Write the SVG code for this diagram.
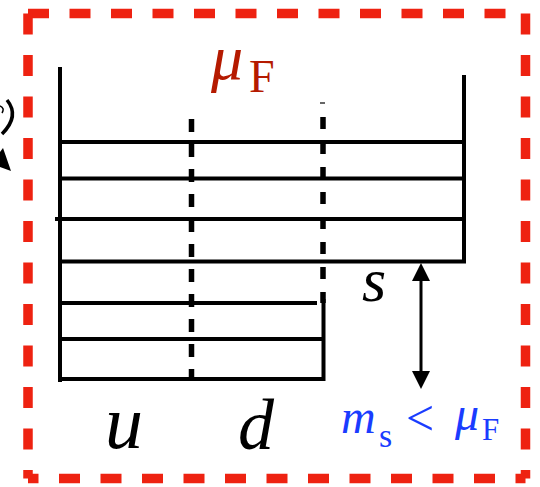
<svg xmlns="http://www.w3.org/2000/svg" width="540" height="487" viewBox="0 0 540 487">
<style>
.border{fill:none;stroke:#EE2211;stroke-width:9.5;stroke-dasharray:21 20.5}
.wall{fill:none;stroke:#000;stroke-width:4;stroke-linecap:square}
.dash{fill:none;stroke:#000;stroke-width:5.5}
.it{font-family:"Liberation Serif",serif;font-style:italic}
.rm{font-family:"Liberation Serif",serif}
</style>
<rect width="540" height="487" fill="#fff"/>
<g id="fragment">
<path d="M7,100 Q20,116 2,134" fill="none" stroke="#000" stroke-width="3.5"/>
<path d="M0,106 Q5,108 2,113" fill="none" stroke="#000" stroke-width="1.5"/>
<polygon points="0,152 3,148 11,171 0,167" fill="#000"/>
</g>
<g id="frame">
<path class="border" d="M28,13.5 H525.5"/>
<path class="border" d="M525.5,13.5 V478.5"/>
<path class="border" d="M525.5,478.5 H28" stroke-dashoffset="11"/>
<path class="border" d="M28,13.5 V478.5"/>
</g>
<g id="container">
<path class="wall" d="M60,69 V380"/>
<path class="wall" d="M62,142 H461"/>
<path class="wall" d="M63,178.5 H464"/>
<path class="wall" d="M57,219 H460"/>
<path class="wall" d="M63,261.5 H464 V77"/>
<path class="wall" d="M60,303 H315"/>
<path class="wall" d="M60,339 H323"/>
<path class="wall" d="M60,379 H323.5 V301"/>
</g>
<g id="dashed">
<path class="dash" d="M191.5,119 V380" stroke-dasharray="13 12"/>
<path class="dash" d="M323,117 V303" stroke-dasharray="12 13"/>
<line x1="320" y1="103" x2="325" y2="103" stroke="#333" stroke-width="1.5"/>
</g>
<g id="connectors">
<line x1="421" y1="279" x2="421" y2="373" stroke="#000" stroke-width="3"/>
<polygon points="421,263 412,281 430,281" fill="#000"/>
<polygon points="421,389 412,371 430,371" fill="#000"/>
</g>
<g id="labels">
<text x="211" y="79" class="it" font-size="64" fill="#B51A00">μ</text>
<text x="249" y="92" class="rm" font-size="46" fill="#B51A00">F</text>
<text x="362" y="301" class="it" font-size="62">s</text>
<text x="105" y="448" class="it" font-size="76">u</text>
<text x="238" y="449" class="it" font-size="72">d</text>
<text x="341" y="433" class="it" font-size="48" fill="#1A3CFF">m</text>
<text x="379" y="447" class="rm" font-size="34" fill="#1A3CFF">s</text>
<text x="406" y="435" class="rm" font-size="50" fill="#1A3CFF">&lt;</text>
<text x="455" y="430" class="it" font-size="48" fill="#1A3CFF">μ</text>
<text x="482" y="440" class="rm" font-size="31" fill="#1A3CFF">F</text>
</g>
</svg>
